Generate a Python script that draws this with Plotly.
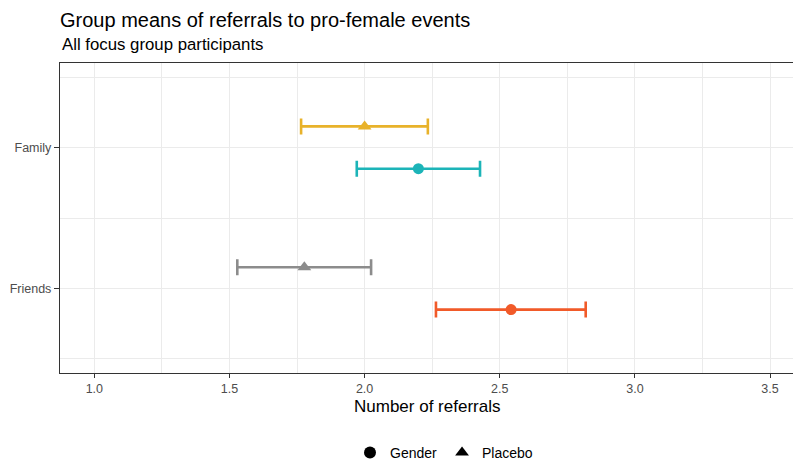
import plotly.graph_objects as go

# Data
categories = ["Friends", "Family"]
conditions = ["Gender", "Placebo"]
means = {
    "Gender":  [2.542, 2.199],
    "Placebo": [1.777, 2.000],
}
lower = {
    "Gender":  [2.264, 1.971],
    "Placebo": [1.529, 1.765],
}
upper = {
    "Gender":  [2.818, 2.427],
    "Placebo": [2.024, 2.234],
}
colors = {
    "Gender":  ["#F15A29", "#1CB4B8"],
    "Placebo": ["#8C8C8C", "#E8B22A"],
}
symbols = {"Gender": "circle", "Placebo": "triangle-up"}
dodge = {"Gender": -0.15, "Placebo": 0.15}
cat_pos = {c: i + 1 for i, c in enumerate(categories)}

fig = go.Figure()
for cond in conditions:
    for i, cat in enumerate(categories):
        m = means[cond][i]
        fig.add_trace(go.Scatter(
            x=[m],
            y=[cat_pos[cat] + dodge[cond]],
            mode="markers",
            marker=dict(symbol=symbols[cond], size=11 if cond == "Gender" else 12,
                        color=colors[cond][i], line=dict(width=0)),
            error_x=dict(type="data", symmetric=False,
                         array=[upper[cond][i] - m],
                         arrayminus=[m - lower[cond][i]],
                         color=colors[cond][i], thickness=2.6, width=8),
            showlegend=False,
        ))

# legend entries
for cond in conditions:
    fig.add_trace(go.Scatter(
        x=[None], y=[None], mode="markers", name=cond,
        marker=dict(symbol=symbols[cond], size=12, color="black"),
    ))

grid = "#EBEBEB"
fig.update_layout(
    width=793, height=461,
    margin=dict(l=60, r=0, t=63, b=88),
    paper_bgcolor="white", plot_bgcolor="white",
    font=dict(family="Liberation Sans, Arial, sans-serif", color="#4D4D4D", size=12),
    title=dict(text="Group means of referrals to pro-female events",
               x=60 / 793, xanchor="left", y=1 - 20 / 461, yanchor="middle",
               font=dict(size=20, color="black")),
    showlegend=True,
    legend=dict(orientation="h", x=(444 - 60) / 733, xanchor="center",
                yref="container", y=(461 - 453) / 461, yanchor="middle",
                font=dict(size=14, color="black"), itemwidth=30, tracegroupgap=0),
    xaxis=dict(range=[0.873, 3.585], tick0=1, dtick=0.5, tickformat=".1f",
               showgrid=True, gridcolor=grid, gridwidth=1,
               minor=dict(dtick=0.25, tick0=1, showgrid=True, gridcolor=grid, gridwidth=1),
               showline=True, linecolor="#333333", linewidth=1.3, mirror=True,
               ticks="outside", ticklen=4, tickcolor="#333333", tickwidth=1.2,
               tickfont=dict(size=12.5, color="#4D4D4D"), zeroline=False),
    yaxis=dict(range=[0.4, 2.6], tickmode="array",
               tickvals=[cat_pos[c] for c in categories], ticktext=categories,
               showgrid=True, gridcolor=grid, gridwidth=1,
               minor=dict(tickmode="array", tickvals=[0.5, 1.5, 2.5], showgrid=True,
                          gridcolor=grid, gridwidth=1),
               showline=True, linecolor="#333333", linewidth=1.3, mirror=False,
               ticks="outside", ticklen=5, tickcolor="#333333", tickwidth=1.2,
               tickfont=dict(size=12.5, color="#4D4D4D"), zeroline=False),
    annotations=[
        dict(text="All focus group participants", xref="paper", yref="paper",
             x=0, xanchor="left", y=1 + (63 - 45) / 310, yanchor="middle",
             showarrow=False, font=dict(size=16.8, color="black")),
        dict(text="Number of referrals", xref="paper", yref="paper",
             x=0.5, xanchor="center", y=-(406 - 373) / 310, yanchor="middle",
             showarrow=False, font=dict(size=17, color="black")),
    ],
)

fig.write_html("out.html", config={"displayModeBar": False},
               post_script="document.body.style.margin='0';document.body.style.overflow='hidden';")
